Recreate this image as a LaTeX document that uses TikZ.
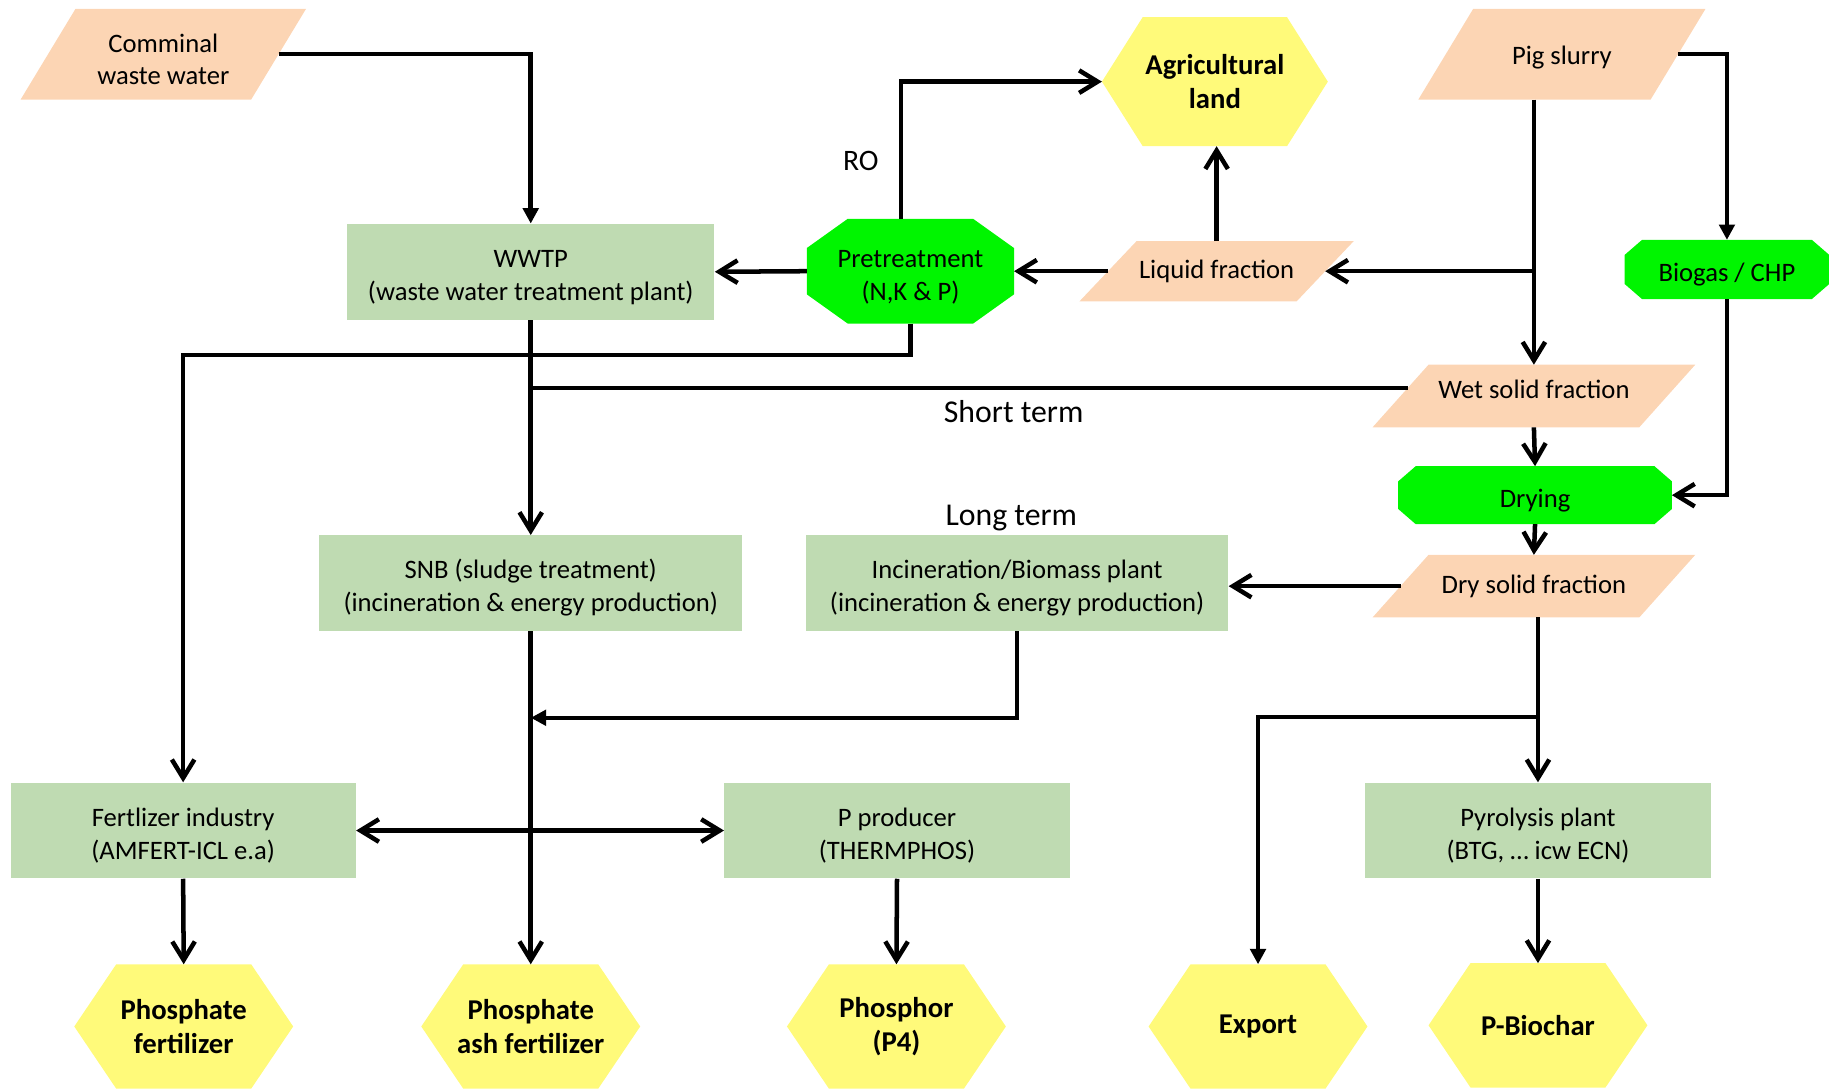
\documentclass[tikz,border=0pt]{standalone}
\usepackage{fontspec}
\setmainfont{Carlito}
\usetikzlibrary{positioning}
\usetikzlibrary{arrows.meta}
\usetikzlibrary{calc}
\usetikzlibrary{backgrounds}

\definecolor{peach}{RGB}{252,213,180}
\definecolor{sage}{RGB}{191,219,178}
\definecolor{brightgreen}{RGB}{0,245,0}
\definecolor{hexyellow}{RGB}{255,250,122}

\begin{document}
\begin{tikzpicture}[x=0.02cm,y=-0.02cm,
    every node/.style={font=\fontsize{13}{16}\selectfont, align=center, inner sep=0pt},
    twoline/.style={text height=30pt},
    oneline/.style={text height=14pt},
    box/.style={twoline, fill=sage, minimum width=5.92cm, minimum height=1.64cm},
    para/.style={minimum height=1.04cm},
    octa/.style={minimum height=1cm},
    hexa/.style={font=\fontsize{14}{16.5}\selectfont\bfseries, minimum width=3.74cm, minimum height=2.12cm},
    note/.style={font=\fontsize{15.5}{18}\selectfont},
    link/.style={line width=2.2pt},
    flow/.style={link, -{Straight Barb[length=9pt,width=11pt]}},
    flowboth/.style={link, {Straight Barb[length=9pt,width=11pt]}-{Straight Barb[length=9pt,width=11pt]}},
    flowtri/.style={link, -{Triangle[length=7.5pt,width=7.5pt]}}]

    \useasboundingbox (0,0) rectangle (1568,936);

    % Inputs and fractions
    \node[para, twoline, minimum width=3.94cm, minimum height=1.54cm] (cww) at (140,46.5) {Comminal\\waste water};
    \node[para, text height=12.5pt, minimum width=3.97cm, minimum height=1.54cm] (pig) at (1339,46.5) {Pig slurry};
    \node[para, minimum width=3.71cm, minimum height=1.02cm] (liq) at (1043,232.5) {Liquid fraction};
    \node[para, text depth=6.8pt, minimum width=4.56cm, minimum height=1.06cm] (wet) at (1315,339.5) {Wet solid fraction};
    \node[para, minimum width=4.56cm, minimum height=1.06cm] (dry) at (1315,502.5) {Dry solid fraction};

    % Treatment steps
    \node[box, minimum width=6.3cm] (wwtp) at (455,233) {WWTP\\(waste water treatment plant)};
    \node[octa, twoline, minimum width=3.54cm, minimum height=1.78cm] (pre) at (780.5,232.5) {Pretreatment\\(N,K \& P)};
    \node[octa, oneline, minimum width=3.5cm] (bio) at (1480.5,231) {Biogas / CHP};
    \node[octa, oneline, minimum width=4.68cm, minimum height=0.98cm] (dryg) at (1316,424.5) {Drying};
    \node[box, minimum width=7.26cm] (snb) at (455,500) {SNB (sludge treatment)\\(incineration \& energy production)};
    \node[box, minimum width=7.24cm] (inc) at (872,500) {Incineration/Biomass plant\\(incineration \& energy production)};
    \node[box] (fert) at (157,712) {Fertlizer industry\\(AMFERT-ICL e.a)};
    \node[box] (ppro) at (769,712) {P producer\\(THERMPHOS)};
    \node[box, minimum width=5.94cm] (pyro) at (1318.5,712) {Pyrolysis plant\\(BTG, … icw ECN)};

    % Products
    \node[hexa, minimum width=3.86cm, minimum height=2.2cm] (agri) at (1041.5,70) {Agricultural\\land};
    \node[hexa] (pfert) at (157.5,880) {Phosphate\\fertilizer};
    \node[hexa] (pash) at (455,880) {Phosphate\\ash fertilizer};
    \node[hexa] (phos) at (768.5,880) {Phosphor\\(P4)};
    \node[hexa] (exp) at (1078.5,880) {Export};
    \node[hexa] (bioc) at (1318.5,879) {P-Biochar};

    % Free labels
    \node[note, font=\fontsize{14.5}{17}\selectfont] (ro) at (738,138) {RO};
    \node[note] (short) at (869,353) {Short term};
    \node[note] (long) at (867,444) {Long term};

    % Fill the shapes behind the texts
    \begin{pgfonlayer}{background}
        \foreach \n/\s in {cww/47, pig/47, liq/49, wet/48, dry/48}
            \fill[peach] ($(\n.south west)+(-\s/2,0)$) -- ($(\n.south east)+(-\s/2,0)$)
                -- ($(\n.north east)+(\s/2,0)$) -- ($(\n.north west)+(\s/2,0)$) -- cycle;
        \foreach \n/\cx/\cy in {pre/35/25, bio/15/13, dryg/15/13}
            \fill[brightgreen] ($(\n.north west)+(\cx,0)$) -- ($(\n.north east)+(-\cx,0)$)
                -- ($(\n.north east)+(0,\cy)$) -- ($(\n.south east)+(0,-\cy)$)
                -- ($(\n.south east)+(-\cx,0)$) -- ($(\n.south west)+(\cx,0)$)
                -- ($(\n.south west)+(0,-\cy)$) -- ($(\n.north west)+(0,\cy)$) -- cycle;
        \foreach \n/\cx in {agri/35, pfert/36, pash/36, phos/36, exp/36, bioc/36}
            \fill[hexyellow] (\n.west) -- ($(\n.north west)+(\cx,0)$) -- ($(\n.north east)+(-\cx,0)$)
                -- (\n.east) -- ($(\n.south east)+(-\cx,0)$) -- ($(\n.south west)+(\cx,0)$) -- cycle;
    \end{pgfonlayer}

    % Draw the connectors
    \coordinate (wetout) at ($(wet.west)+(6,-7)$);
    \coordinate (merge) at ($(snb.south)+(0,74)$);
    \coordinate (split) at ($(pyro.north)+(0,-56)$);

    \draw[flowtri] (cww.east) -| (wwtp.north);
    \draw[flow] (pre.west) -- (wwtp.east);
    \draw[flow] (liq.west) -- (pre.east);
    \draw[flow] (liq.north) -- (liq.north |- agri.south);
    \draw[flow] ($(pre.north)+(-8,0)$) |- (agri.west);
    \draw[flow] (pig.south -| wet.north) -- (wet.north);
    \draw[flow] (wet.north |- liq.east) -- (liq.east);
    \draw[flowtri] (pig.east) -| (bio.north);
    \draw[flow] (bio.south) |- (dryg.east);
    \draw[flow] (wet.south) -- (dryg.north);
    \draw[flow] (dryg.south) -- (dry.north);
    \draw[link] (wetout) -- (wetout -| wwtp.south);
    \draw[flow] (wwtp.south) -- (snb.north);
    \draw[flow] (pre.south) -- ++(0,27) -| (fert.north);
    \draw[flow] (dry.west) -- (dry.west -| inc.east);
    \draw[flow] (snb.south) -- (pash.north);
    \draw[flowtri] (inc.south) |- (merge);
    \draw[flowboth] (fert.east) -- (ppro.west);
    \draw[flow] (fert.south) -- (pfert.north);
    \draw[flow] (ppro.south) -- (phos.north);
    \draw[flow] (pyro.north |- dry.south) -- (pyro.north);
    \draw[flowtri] (split) -| (exp.north);
    \draw[flow] (pyro.south) -- (bioc.north);
\end{tikzpicture}
\end{document}
